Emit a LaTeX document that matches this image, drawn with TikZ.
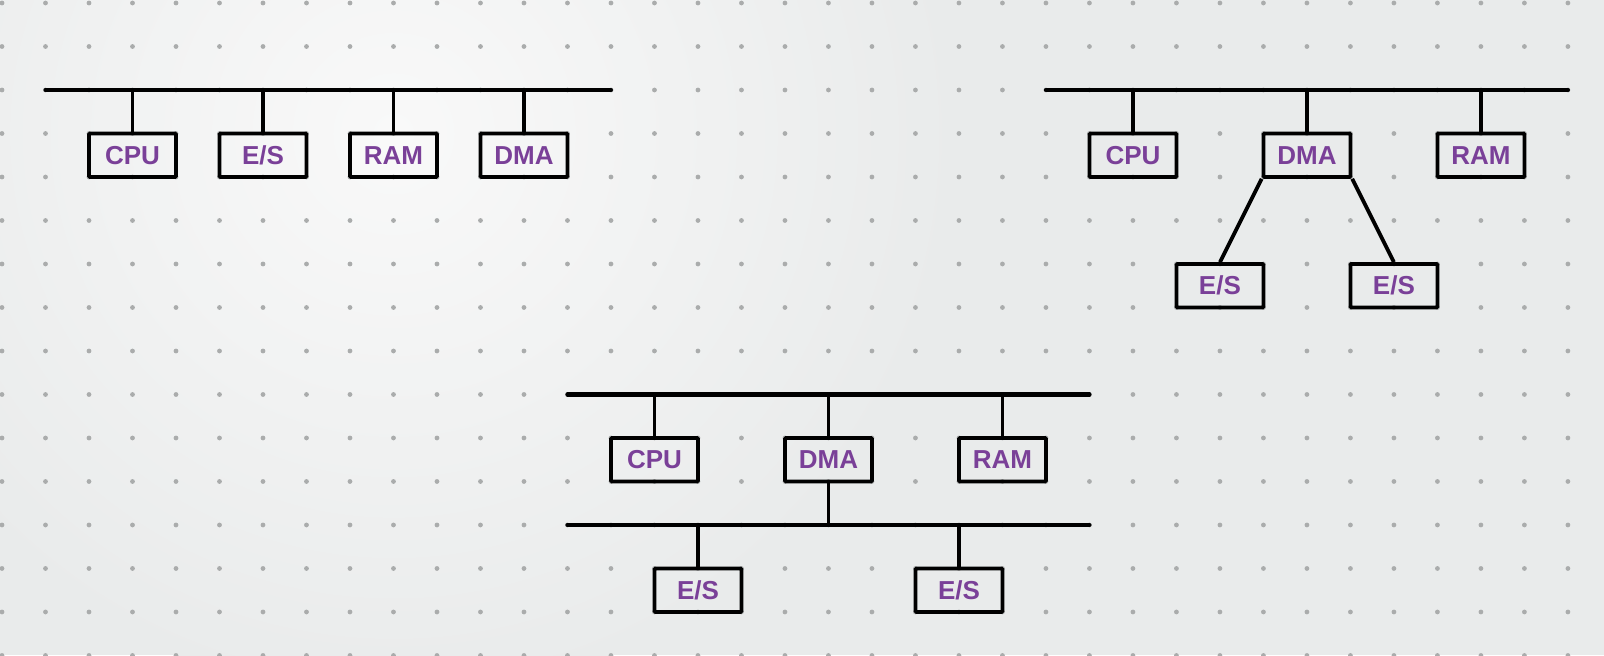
\documentclass[tikz,border=0pt]{standalone}
\usepackage{fontspec}
\setsansfont{Liberation Sans}
\usepackage{xcolor}
\usetikzlibrary{calc}
\definecolor{inkpurple}{RGB}{122,64,152}
\definecolor{paper}{RGB}{233,235,235}
\definecolor{paperlight}{RGB}{249,249,249}
\definecolor{griddot}{RGB}{170,172,172}
\tikzset{
  unit/.style={draw, line width=2.4pt, rounded corners=0.6pt, minimum width=2cm,
    minimum height=1cm, inner sep=0pt, text=inkpurple,
    font=\sffamily\bfseries\fontsize{17}{17}\selectfont},
  busline/.style={line width=2.7pt, line cap=round},
  wire/.style={line width=2.5pt}
}

\begin{document}
\begin{tikzpicture}
\useasboundingbox (-0.046, 0.069) rectangle (36.83, -14.99);
\fill[paper] (-0.046, 0.069) rectangle (36.83, -14.99);
\shade[inner color=paperlight, outer color=paper] (9, -3) circle (13);
\foreach \x in {0,...,36}
  \foreach \y in {0,...,15}
    \fill[griddot] (\x, -\y) circle (0.055);

% shared bus
\coordinate (busa) at (1, -2);
\coordinate (busb) at (14, -2);
\node[unit] at (3, -3.5)  (cpu1) {CPU};
\node[unit] at (6, -3.5)  (es1)  {E/S};
\node[unit] at (9, -3.5)  (ram1) {RAM};
\node[unit] at (12, -3.5) (dma1) {DMA};
\draw[busline] (busa) -- (busb);
\draw[wire] (cpu1.north) -- (cpu1.north |- busa);
\draw[wire] (es1.north)  -- (es1.north |- busa);
\draw[wire] (ram1.north) -- (ram1.north |- busa);
\draw[wire] (dma1.north) -- (dma1.north |- busa);

% devices behind the DMA
\coordinate (busc) at (24, -2);
\coordinate (busd) at (36, -2);
\node[unit] at (26, -3.5) (cpu2) {CPU};
\node[unit] at (30, -3.5) (dma2) {DMA};
\node[unit] at (34, -3.5) (ram2) {RAM};
\node[unit] at (28, -6.5) (es2a) {E/S};
\node[unit] at (32, -6.5) (es2b) {E/S};
\draw[busline] (busc) -- (busd);
\draw[wire] (cpu2.north) -- (cpu2.north |- busc);
\draw[wire] (dma2.north) -- (dma2.north |- busc);
\draw[wire] (ram2.north) -- (ram2.north |- busc);
\draw[wire] (dma2.south west) -- (es2a.north);
\draw[wire] (dma2.south east) -- (es2b.north);

% second bus for E/S
\coordinate (buse) at (13, -9);
\coordinate (busf) at (25, -9);
\coordinate (busg) at (13, -12);
\coordinate (bush) at (25, -12);
\node[unit] at (15, -10.5) (cpu3) {CPU};
\node[unit] at (19, -10.5) (dma3) {DMA};
\node[unit] at (23, -10.5) (ram3) {RAM};
\node[unit] at (16, -13.5) (es3a) {E/S};
\node[unit] at (22, -13.5) (es3b) {E/S};
\draw[busline] (buse) -- (busf);
\draw[busline] (busg) -- (bush);
\draw[wire] (cpu3.north) -- (cpu3.north |- buse);
\draw[wire] (dma3.north) -- (dma3.north |- buse);
\draw[wire] (ram3.north) -- (ram3.north |- buse);
\draw[wire] (dma3.south) -- (dma3.south |- busg);
\draw[wire] (es3a.north) -- (es3a.north |- busg);
\draw[wire] (es3b.north) -- (es3b.north |- busg);
\end{tikzpicture}
\end{document}
